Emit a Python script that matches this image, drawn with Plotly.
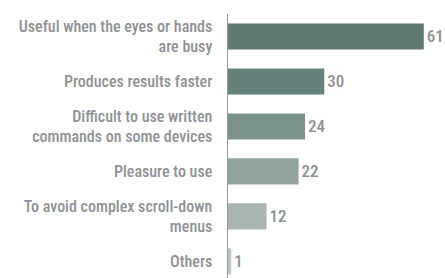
import plotly.graph_objects as go

categories = [
    "Useful when the eyes or hands<br>are busy",
    "Produces results faster",
    "Difficult to use written<br>commands on some devices",
    "Pleasure to use",
    "To avoid complex scroll-down<br>menus",
    "Others",
]
values = [61, 30, 24, 22, 12, 1]
bar_colors = ["#5e7b74", "#64817b", "#7a918c", "#93a4a0", "#a9b5b2", "#bcc6c4"]

FONT = "Roboto Condensed, Open Sans Condensed, sans-serif"
GRAY = "#8f9194"

fig = go.Figure(
    go.Bar(
        x=values,
        y=categories,
        orientation="h",
        marker=dict(color=bar_colors, line=dict(width=0)),
        text=[str(v) for v in values],
        textposition="outside",
        textfont=dict(family=FONT, size=17, color=GRAY, weight=500),
        cliponaxis=False,
        hoverinfo="skip",
    )
)

fig.update_layout(
    width=445,
    height=278,
    margin=dict(l=228, r=2, t=14, b=0),
    plot_bgcolor="white",
    paper_bgcolor="white",
    bargap=0.42,
    showlegend=False,
    font=dict(family=FONT, color=GRAY),
)
fig.update_xaxes(range=[0, 67], visible=False, showgrid=False, zeroline=False, automargin=False)
fig.update_yaxes(
    range=[5.37, -0.5],
    showline=True,
    linecolor="#9a9a9a",
    linewidth=1.5,
    showgrid=False,
    zeroline=False,
    ticks="outside",
    ticklen=11,
    tickcolor="rgba(0,0,0,0)",
    tickfont=dict(family=FONT, size=16, color=GRAY, weight=500),
    automargin=False,
)

fig.write_html(
    "out.html",
    config={"displayModeBar": False, "staticPlot": True},
    post_script="document.body.style.margin='0px';document.body.style.overflow='hidden';",
)
